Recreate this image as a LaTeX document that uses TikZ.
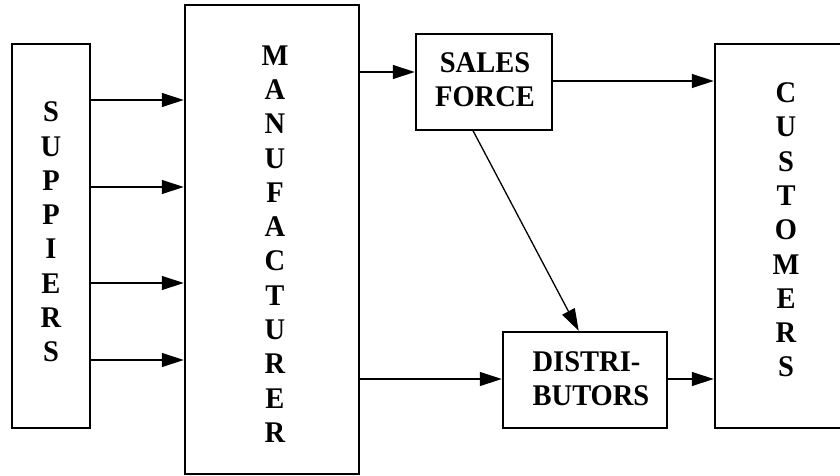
\documentclass[tikz,border=0pt]{standalone}
\usepackage{fontspec}
\setmainfont{Liberation Serif}[FakeStretch=0.95]
\usetikzlibrary{arrows.meta}
\tikzset{
  box/.style={draw, line width=1.3pt, rectangle, inner sep=0pt},
  label/.style={font=\fontsize{30}{34.3}\selectfont\bfseries, inner sep=0pt},
  arr/.style={line width=1.3pt, -{Triangle[length=22pt,width=14pt]}, shorten >=0.6pt}
}
\begin{document}
\begin{tikzpicture}[x=1pt,y=-1pt]
  \useasboundingbox (0,0) rectangle (840,476);
  \clip (0,0) rectangle (840,476);
  \fill[white] (0,0) rectangle (840,476);

  % boxes
  \node[box, minimum width=78pt,  minimum height=384pt] (sup)   at (51,236) {};
  \node[box, minimum width=174pt, minimum height=469pt] (man)   at (272,239.5) {};
  \node[box, minimum width=136pt, minimum height=96pt]  (sales) at (484,82) {};
  \node[box, minimum width=164pt, minimum height=96pt]  (dist)  at (585,380) {};
  \node[box, minimum width=140pt, minimum height=384pt] (cust)  at (785,236) {};

  % labels
  \node[label, align=center] (supt)   at (51,232)  {S\\U\\P\\P\\I\\E\\R\\S};
  \node[label, align=center] (mant)   at (275,244) {M\\A\\N\\U\\F\\A\\C\\T\\U\\R\\E\\R};
  \node[label, align=center] (custt)  at (786,230) {C\\U\\S\\T\\O\\M\\E\\R\\S};
  \node[label, align=center] (salest) at (485,80)  {SALES\\FORCE};
  \node[label, align=left]   (distt)  at (591,379) {DISTRI-\\BUTORS};

  % connector heights
  \coordinate (r1) at (0,100);
  \coordinate (r2) at (0,187);
  \coordinate (r3) at (0,283);
  \coordinate (r4) at (0,360);
  \coordinate (rs) at (0,72);
  \coordinate (rc) at (0,81);
  \coordinate (rd) at (0,379);
  \coordinate (sfoot) at (473,0);
  \coordinate (dtop)  at (579,0);

  % suppliers to manufacturer
  \foreach \r in {r1,r2,r3,r4}
    \draw[arr] (sup.east |- \r) -- (man.west |- \r);

  % flows
  \draw[arr] (man.east |- rs) -- (sales.west |- rs);
  \draw[arr] (sales.east |- rc) -- (cust.west |- rc);
  \draw[arr] (man.east |- rd) -- (dist.west |- rd);
  \draw[arr] (dist.east |- rd) -- (cust.west |- rd);
  \draw[arr] (sales.south -| sfoot) -- (dist.north -| dtop);
\end{tikzpicture}
\end{document}
